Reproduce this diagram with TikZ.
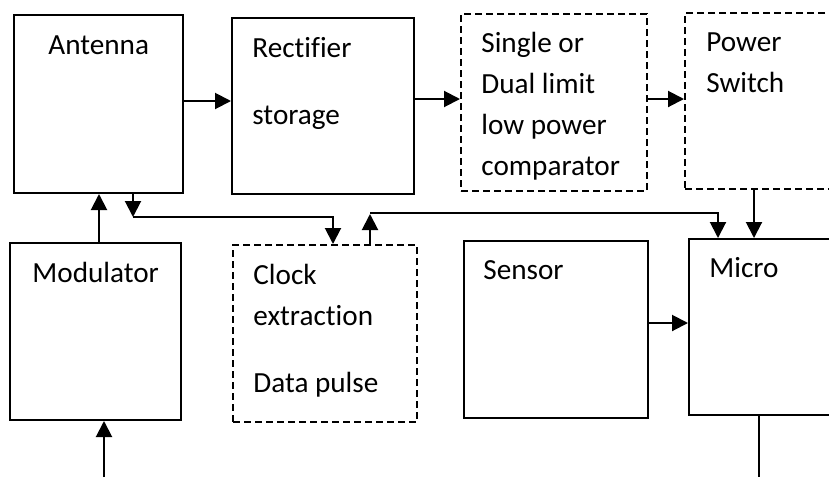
\documentclass[tikz,border=0pt]{standalone}
\usepackage{fontspec}
\setmainfont[Ligatures={NoCommon}]{Carlito}
\usetikzlibrary{arrows.meta,calc}

\tikzset{
  blk/.style={draw, line width=1pt, anchor=north west, inner sep=0pt},
  dblk/.style={blk, dash pattern=on 3.5pt off 2pt},
  lbl/.style={anchor=base west, align=left, inner sep=0pt, font=\fontsize{14.6}{20.5}\selectfont},
  arr/.style={-{Triangle[length=8pt,width=8pt]}, line width=1pt},
}

\begin{document}
\begin{tikzpicture}[x=0.5pt,y=-0.5pt]
  \useasboundingbox (0,0) rectangle (829,477);
  % top row
  \node[blk,  minimum width=84.5pt, minimum height=89pt]   (ant)  at (13,14)  {};
  \node[blk,  minimum width=91pt,   minimum height=88pt]   (rect) at (231,17) {};
  \node[dblk, minimum width=93pt,   minimum height=88.5pt] (comp) at (460,13) {};
  \node[dblk, minimum width=90pt,   minimum height=88pt]   (pws)  at (684,12) {};
  % bottom row
  \node[blk,  minimum width=85.5pt, minimum height=88.5pt] (mod)  at (9,242)   {};
  \node[dblk, minimum width=92pt,   minimum height=88.5pt] (clk)  at (232,244) {};
  \node[blk,  minimum width=92pt,   minimum height=88.5pt] (sen)  at (463,240) {};
  \node[blk,  minimum width=90pt,   minimum height=88pt]   (mic)  at (688,238) {};

  % labels, placed at the baseline of their last line
  \node[lbl] (ant-l)  at (48,54)   {Antenna};
  \node[lbl] (rect-l) at (252,124) {Rectifier\\[13pt]storage};
  \node[lbl] (comp-l) at (481,175) {Single or\\Dual limit\\low power\\comparator};
  \node[lbl] (pws-l)  at (706,92)  {Power\\Switch};
  \node[lbl] (mod-l)  at (32,282)  {Modulator};
  \node[lbl] (clk-l)  at (253,392) {Clock\\extraction\\[13pt]Data pulse};
  \node[lbl] (sen-l)  at (483,279) {Sensor};
  \node[lbl] (mic-l)  at (709,277) {Micro};

  \coordinate (jA)  at (133,217);
  \coordinate (jC)  at (370,214);
  \coordinate (in)  at (104,477);
  \coordinate (out) at (759,477);

  % power chain
  \draw[arr] ([yshift=1.5pt]ant.east) -- ([yshift=1.5pt]ant.east -| rect.west);
  \draw[arr] ([yshift=3.5pt]rect.east) -- ([yshift=3.5pt]rect.east -| comp.west);
  \draw[arr] ([yshift=1.75pt]comp.east) -- ([yshift=1.75pt]comp.east -| pws.west);
  \draw[arr] ([xshift=35pt]pws.south west) -- ([xshift=35pt]pws.south west |- mic.north);
  % data paths
  \draw[arr] (jA |- ant.south) -- (jA);
  \draw[arr] (jA) -| ([xshift=50.5pt]clk.north west);
  \draw[arr] (jC |- clk.north) -- (jC);
  \draw[arr] ([yshift=0.5pt]jC) -| ([xshift=15pt]mic.north west);
  \draw[arr] ([xshift=1.75pt]mod.north) -- ([xshift=1.75pt]mod.north |- ant.south);
  \draw[arr] (in) -- (in |- mod.south);
  \draw[arr] ([yshift=3.25pt]sen.east) -- ([yshift=3.25pt]sen.east -| mic.west);
  \draw[line width=1pt] (out |- mic.south) -- (out);
\end{tikzpicture}
\end{document}
